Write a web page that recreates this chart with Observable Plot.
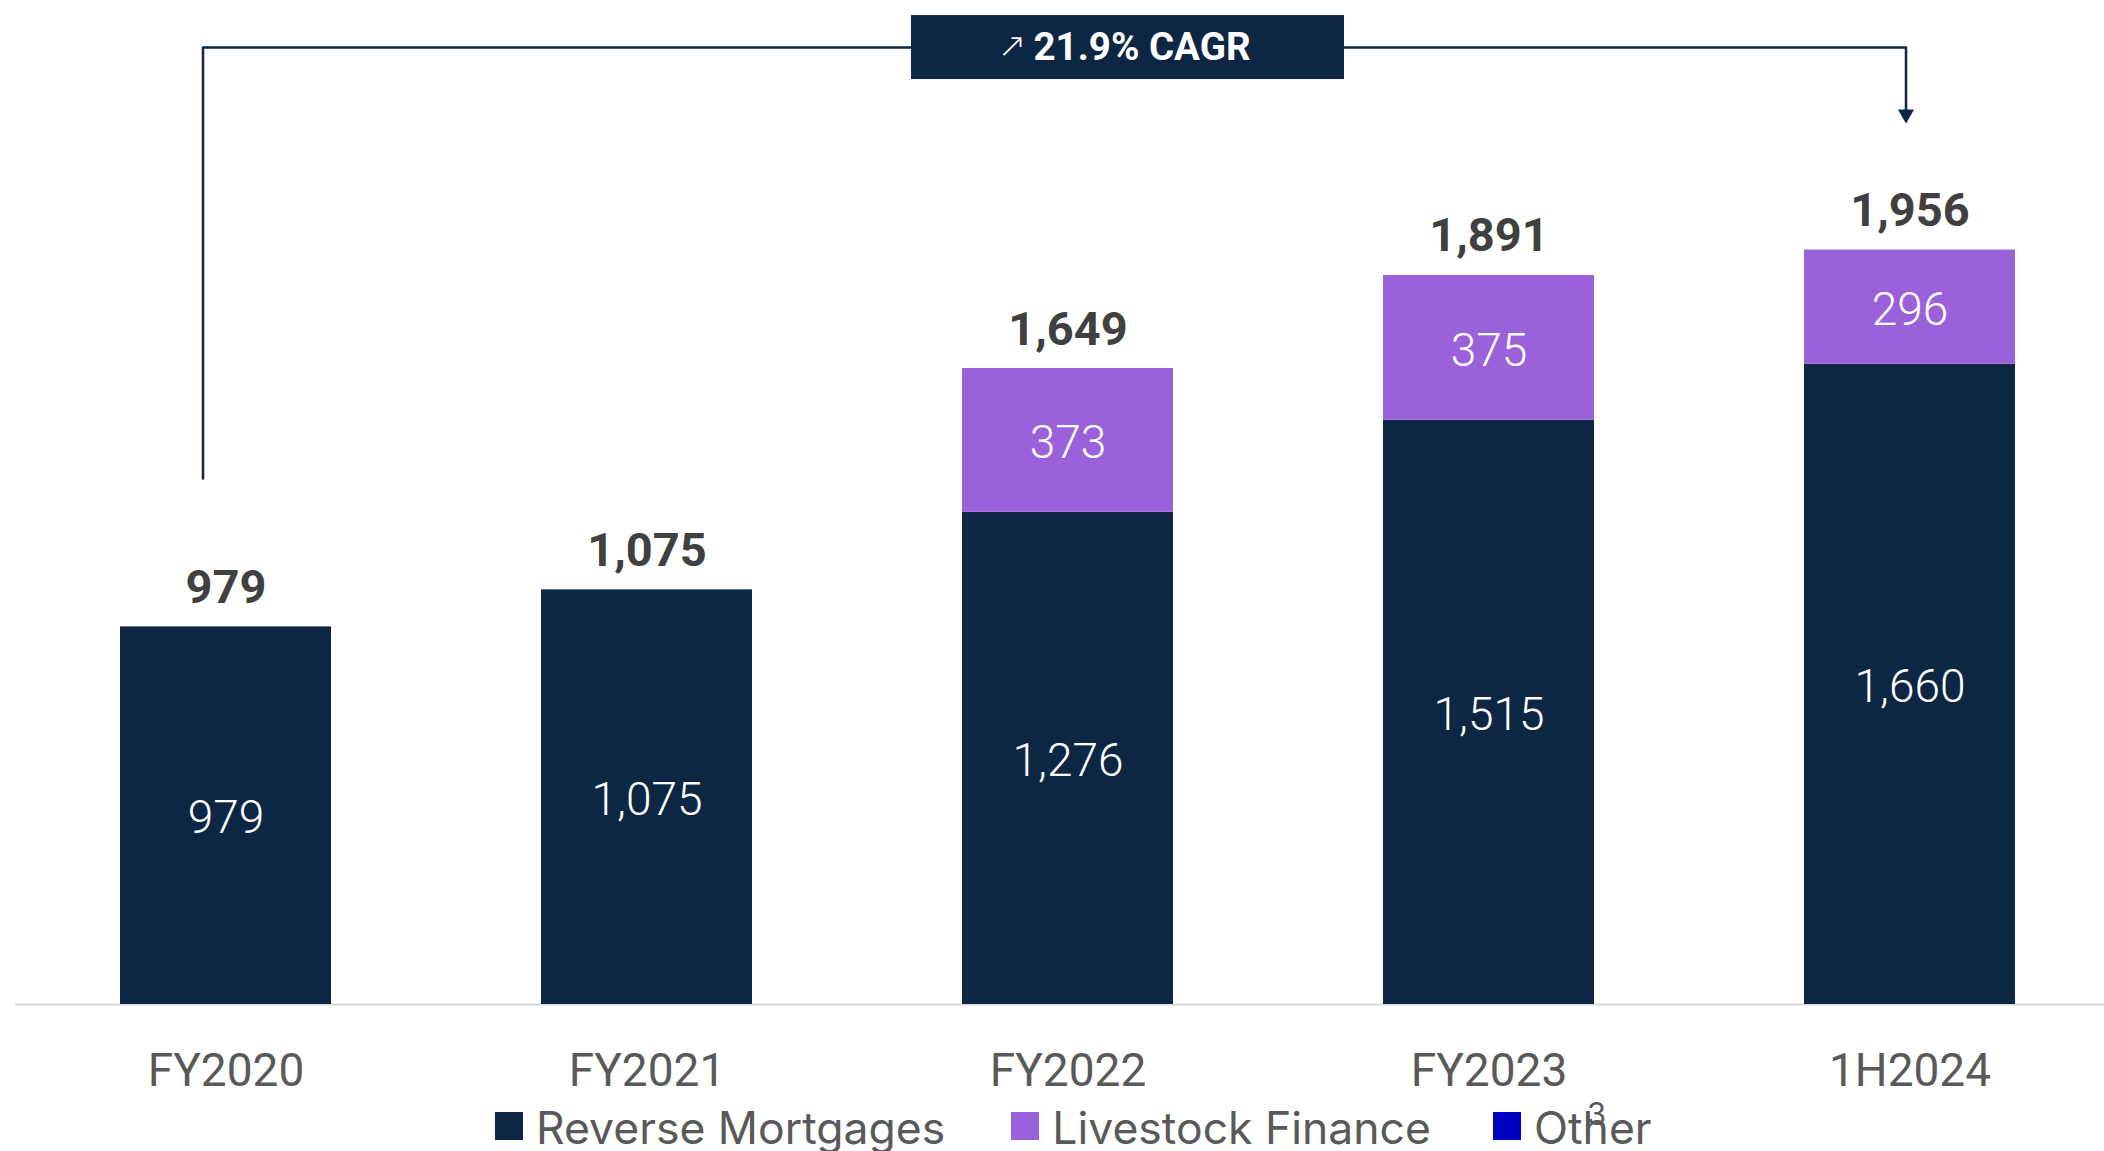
<!DOCTYPE html>
<html><head><meta charset="utf-8">
<script src="https://cdn.jsdelivr.net/npm/d3@7"></script>
<script src="https://cdn.jsdelivr.net/npm/@observablehq/plot@0.6"></script>
<style>
html,body{margin:0;padding:0;background:#fff;width:2104px;height:1151px;overflow:hidden}
#chart svg{display:block}
#legend{display:flex;align-items:center;height:60px;padding-left:495px;font-family:Inter, "Noto Sans", sans-serif;font-size:44.5px;color:#595959;white-space:nowrap}
.item{display:flex;align-items:center;margin-right:66px;position:relative}
.item:nth-child(2){margin-right:62px}
.sw{width:28px;height:28px;margin-right:13px;flex:none}
.lab{position:relative;top:2px}
.sup{position:absolute;left:53px;top:-3px;font-size:31px;line-height:1}
</style></head><body>
<div id="chart"></div><div id="legend"></div>
<script>
// ---- data ----
const years = ["FY2020", "FY2021", "FY2022", "FY2023", "1H2024"];
const seriesNames = ["Reverse Mortgages", "Livestock Finance", "Other"];
const seriesColors = ["#0C2643", "#9B61DB", "#0000C0"];
const reverseMortgages = [979, 1075, 1276, 1515, 1660];
const livestockFinance = [0, 0, 373, 375, 296];
const other = [0, 0, 0, 0, 0];
const totals = [979, 1075, 1649, 1891, 1956];
const cagrArrow = "↗";
const cagrText = "21.9% CAGR";
const cagrFrom = "FY2020", cagrTo = "1H2024";
const cagrLevel = 2481, bracketStart = 1364, arrowEnd = 2316, arrowTip = 2308;
const legendSup = {Other: "3"};

const seriesValues = [reverseMortgages, livestockFinance, other];
const navy = seriesColors[0];
const fmt = d3.format(",");

const long = years.flatMap((yr, i) => seriesNames.map((s, j) => ({year: yr, series: s, value: seriesValues[j][i]})));
const segs = [];
years.forEach((yr, i) => {
  let base = 0;
  seriesNames.forEach((s, j) => {
    const v = seriesValues[j][i];
    if (v > 0) segs.push({year: yr, mid: base + v / 2, value: v});
    base += v;
  });
});
const totalRows = years.map((yr, i) => ({year: yr, total: totals[i]}));

const plot = Plot.plot({
  width: 2104,
  height: 1096,
  marginLeft: 15,
  marginRight: 0,
  marginTop: 0,
  marginBottom: 92,
  style: {fontFamily: "Roboto, sans-serif", color: "#595959", background: "#fff"},
  x: {domain: years, range: [14, 2120], paddingInner: 0.5, paddingOuter: 0.25, label: null},
  y: {domain: [0, 2603], range: [1004, 0], axis: null},
  color: {domain: seriesNames, range: seriesColors},
  marks: [
    Plot.ruleY([0], {stroke: "#d9d9d9", strokeWidth: 2}),
    Plot.barY(long, {x: "year", y: "value", fill: "series"}),
    Plot.text(segs, {x: "year", y: "mid", dy: 3, text: d => fmt(d.value), fill: "white", fontSize: 46, fontWeight: 300, fontFamily: "Roboto"}),
    Plot.text(totalRows, {x: "year", y: "total", dy: -39, text: d => fmt(d.total), fill: "#404040", fontSize: 47, fontWeight: 700, letterSpacing: -1.5, fontFamily: "Roboto"}),
    Plot.axisX({tickSize: 0, tickPadding: 49, fontSize: 46, fill: "#595959"}),
    // CAGR bracket
    Plot.line([{x: cagrFrom, y: bracketStart}, {x: cagrFrom, y: cagrLevel}, {x: years[2], y: cagrLevel}], {x: "x", y: "y", dx: -23, stroke: navy, strokeWidth: 2.5}),
    Plot.line([{x: years[2], y: cagrLevel}, {x: cagrTo, y: cagrLevel}, {x: cagrTo, y: arrowEnd}], {x: "x", y: "y", dx: -4, stroke: navy, strokeWidth: 2.5}),
    Plot.dot([{x: cagrTo, y: arrowTip}], {x: "x", y: "y", dx: -4, symbol: "triangle", r: 6, rotate: 180, fill: navy, stroke: "none"}),
    Plot.text([{x: years[2], y: cagrLevel, t: cagrText}], {x: "x", y: "y", dx: 74, text: "t", fill: "white", fontSize: 38.5, fontWeight: 700, letterSpacing: 0.3, fontFamily: "Roboto"}),
    Plot.text([{x: years[2], y: cagrLevel, t: cagrArrow}], {x: "x", y: "y", dx: -56, dy: -1, text: "t", fill: "white", fontSize: 34, fontWeight: 300, fontFamily: "DejaVu Sans"})
  ]
});
document.getElementById("chart").appendChild(plot);

// box behind CAGR label
(function () {
  const xs = plot.scale("x"), ys = plot.scale("y");
  const cx = xs.apply(years[2]) + xs.bandwidth / 2 + 60;
  const cy = ys.apply(cagrLevel);
  const texts = [...plot.querySelectorAll("text")].filter(t => t.textContent === cagrText);
  if (texts.length) {
    const g = texts[0].closest("g");
    const r = document.createElementNS("http://www.w3.org/2000/svg", "rect");
    r.setAttribute("x", cx - 216.5);
    r.setAttribute("y", cy - 32);
    r.setAttribute("width", 433);
    r.setAttribute("height", 64);
    r.setAttribute("fill", navy);
    g.parentNode.insertBefore(r, g);
  }
})();

// legend
const leg = document.getElementById("legend");
seriesNames.forEach((s, j) => {
  const it = document.createElement("div");
  it.className = "item";
  const sw = document.createElement("div");
  sw.className = "sw";
  sw.style.background = seriesColors[j];
  const lab = document.createElement("span");
  lab.className = "lab";
  lab.textContent = s;
  if (legendSup[s]) {
    const sp = document.createElement("span");
    sp.className = "sup";
    sp.textContent = legendSup[s];
    lab.appendChild(sp);
  }
  it.appendChild(sw);
  it.appendChild(lab);
  leg.appendChild(it);
});
</script>
</body></html>
